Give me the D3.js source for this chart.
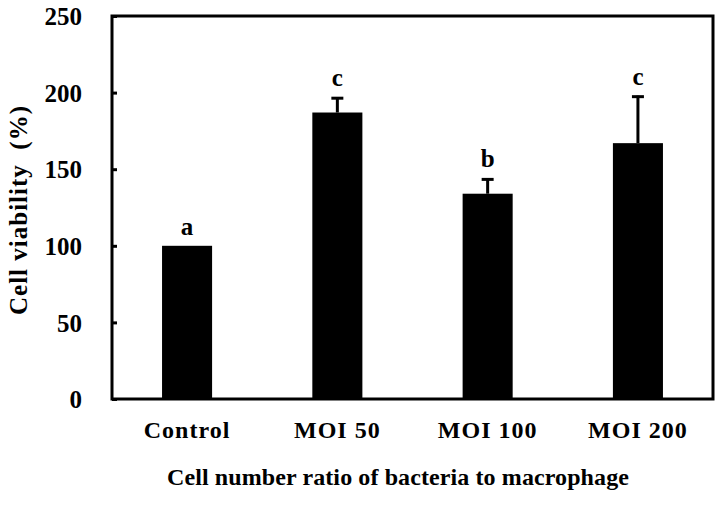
<!DOCTYPE html>
<html>
<head>
<meta charset="utf-8">
<script src="https://cdn.jsdelivr.net/npm/d3@7"></script>
<style>
  body { margin: 0; background: #fff; }
  text { font-family: "Liberation Serif", "Times New Roman", serif; font-weight: bold; fill: #000; }
</style>
</head>
<body>
<div id="chart"></div>
<script>
// data
const groups = ['Control', 'MOI 50', 'MOI 100', 'MOI 200'];
const viability = [100, 187, 134, 167];
const errors = [0, 10, 10, 31];
const letters = ['a', 'c', 'b', 'c'];
const yTicks = [0, 50, 100, 150, 200, 250];

const width = 724, height = 505;
const margin = { top: 16, left: 112, right: 11, bottom: 106 };

const svg = d3.select('#chart').append('svg')
  .attr('width', width)
  .attr('height', height);

const x = d3.scaleBand()
  .domain(groups)
  .range([margin.left, width - margin.right])
  .paddingInner(0.667)
  .paddingOuter(0.333);

const y = d3.scaleLinear()
  .domain([0, 250])
  .range([height - margin.bottom, margin.top]);

// bars
svg.selectAll('rect.bar')
  .data(groups)
  .enter().append('rect')
  .attr('class', 'bar')
  .attr('x', d => x(d))
  .attr('width', x.bandwidth())
  .attr('y', (d, i) => y(viability[i]))
  .attr('height', (d, i) => y(0) - y(viability[i]))
  .attr('fill', '#000');

// error bars (upper only)
const eb = svg.selectAll('g.err')
  .data(groups.filter((d, i) => errors[i] > 0))
  .enter().append('g')
  .attr('class', 'err');
eb.append('line')
  .attr('x1', d => x(d) + x.bandwidth() / 2)
  .attr('x2', d => x(d) + x.bandwidth() / 2)
  .attr('y1', d => y(viability[groups.indexOf(d)]))
  .attr('y2', d => { const i = groups.indexOf(d); return y(viability[i] + errors[i]); })
  .attr('stroke', '#000').attr('stroke-width', 3);
eb.append('line')
  .attr('x1', d => x(d) + x.bandwidth() / 2 - 6)
  .attr('x2', d => x(d) + x.bandwidth() / 2 + 6)
  .attr('y1', d => { const i = groups.indexOf(d); return y(viability[i] + errors[i]) + 1; })
  .attr('y2', d => { const i = groups.indexOf(d); return y(viability[i] + errors[i]) + 1; })
  .attr('stroke', '#000').attr('stroke-width', 3);

// significance letters
svg.selectAll('text.sig')
  .data(groups)
  .enter().append('text')
  .attr('class', 'sig')
  .attr('x', d => x(d) + x.bandwidth() / 2)
  .attr('y', (d, i) => y(viability[i] + errors[i]) - 11)
  .attr('text-anchor', 'middle')
  .style('font-size', '25px')
  .text((d, i) => letters[i]);

// y axis: ticks inside, labels to the left
const yAxis = d3.axisLeft(y).tickValues(yTicks).tickSize(-5).tickPadding(30);
const gy = svg.append('g')
  .attr('transform', `translate(${margin.left},0)`)
  .call(yAxis);
gy.select('.domain').remove();
gy.selectAll('.tick line').attr('stroke', '#000').attr('stroke-width', 3);
gy.selectAll('.tick text')
  .attr('fill', '#000')
  .style('font-size', '25px')
  .attr('dy', '0.35em');

// x axis labels
const xAxis = d3.axisBottom(x).tickSize(0).tickPadding(22);
const gx = svg.append('g')
  .attr('transform', `translate(0,${height - margin.bottom})`)
  .call(xAxis);
gx.select('.domain').remove();
gx.selectAll('.tick text')
  .attr('fill', '#000')
  .style('font-size', '24px')
  .style('letter-spacing', '1px');

// frame
svg.append('rect')
  .attr('x', margin.left)
  .attr('y', margin.top)
  .attr('width', width - margin.left - margin.right)
  .attr('height', height - margin.top - margin.bottom)
  .attr('fill', 'none')
  .attr('stroke', '#000')
  .attr('stroke-width', 3);

// axis titles
svg.append('text')
  .attr('x', 398)
  .attr('y', 485)
  .attr('text-anchor', 'middle')
  .style('font-size', '24px')
  .style('letter-spacing', '0.1px')
  .text('Cell number ratio of bacteria to macrophage');

svg.append('text')
  .attr('transform', 'translate(27,210) rotate(-90)')
  .attr('text-anchor', 'middle')
  .style('font-size', '25px')
  .style('letter-spacing', '1px')
  .style('white-space', 'pre')
  .text('Cell viability  (%)');
</script>
</body>
</html>
